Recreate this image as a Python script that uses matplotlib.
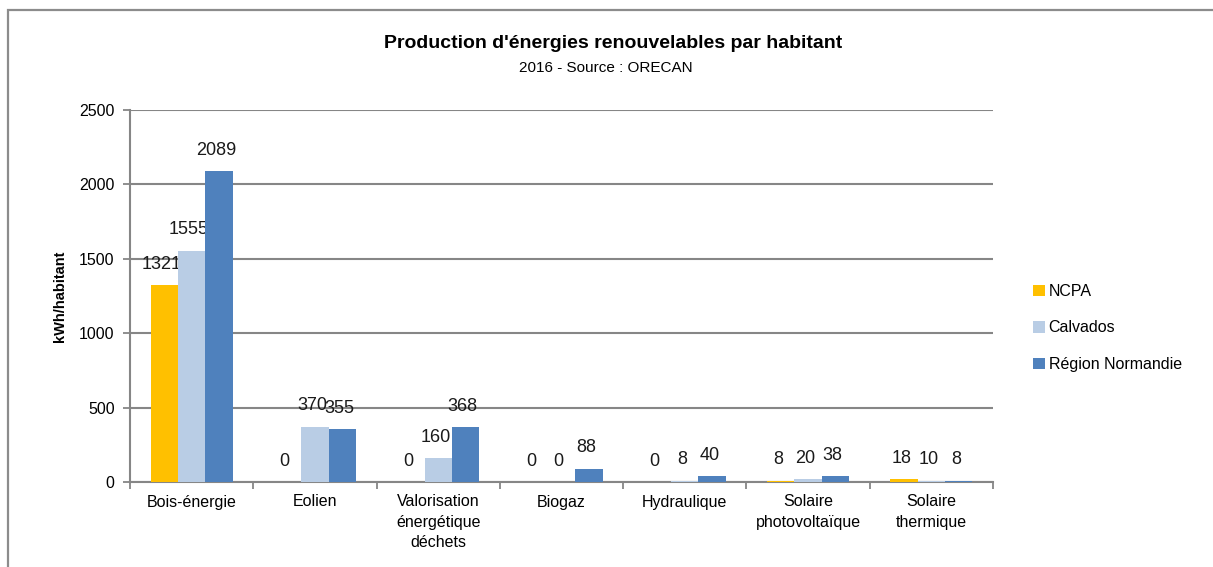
import numpy as np
import matplotlib
matplotlib.use("Agg")
import matplotlib.pyplot as plt
from matplotlib.patches import Rectangle

categories = ["Bois-énergie", "Eolien", "Valorisation\nénergétique\ndéchets", "Biogaz",
              "Hydraulique", "Solaire\nphotovoltaïque", "Solaire\nthermique"]
series = ["NCPA", "Calvados", "Région Normandie"]
ncpa = [1321, 0, 0, 0, 0, 8, 18]
calvados = [1555, 370, 160, 0, 8, 20, 10]
region = [2089, 355, 368, 88, 40, 38, 8]
colors = ["#FFC000", "#B9CDE5", "#4F81BD"]
yticks = [0, 500, 1000, 1500, 2000, 2500]

plt.rcParams['font.family'] = ['Liberation Sans', 'DejaVu Sans']
grey = "#868686"

fig = plt.figure(figsize=(12.13, 5.67), dpi=100)
ax = fig.add_axes([130/1213, 1-482/567, 863/1213, 372/567])

# outer chart frame (partly cropped in the original)
fig.patches.append(Rectangle((8/1213, -0.2), 1.2, 1.2 - 10/567, transform=fig.transFigure,
                             fill=False, edgecolor="#8c8c8c", lw=1.6))

x = np.arange(len(categories))
w = 0.222
for k, (vals, c, name) in enumerate(zip([ncpa, calvados, region], colors, series)):
    pos = x + (k - 1) * w
    ax.bar(pos, vals, w, color=c, label=name, zorder=3)
    for px, v in zip(pos, vals):
        ax.annotate(str(v), (px, v), xytext=(-2, 9), textcoords="offset points",
                    ha="center", va="bottom", fontsize=13, color="#1a1a1a")

ax.set_xlim(-0.5, len(categories) - 0.5)
ax.set_ylim(0, 2500)
ax.set_yticks(yticks)
ax.yaxis.grid(True, color=grey, lw=1.5, zorder=0)
ax.set_axisbelow(True)

ax.set_xticks(np.arange(len(categories) + 1) - 0.5)
ax.set_xticklabels([])
ax.set_xticks(x, minor=True)
ax.set_xticklabels(categories, minor=True, fontsize=11.5, linespacing=1.45)
ax.tick_params(axis="x", which="minor", length=0, pad=9)
ax.tick_params(axis="x", which="major", length=5, width=1.3, color=grey)
ax.tick_params(axis="y", length=5, width=1.3, color=grey, labelsize=11.5, pad=6)

for s in ["top", "right"]:
    ax.spines[s].set_visible(False)
for s in ["left", "bottom"]:
    ax.spines[s].set_color(grey)
    ax.spines[s].set_linewidth(1.5)

ax.set_ylabel("kWh/habitant", fontsize=10.5, fontweight="bold", labelpad=9)

fig.text(613/1213, 1-44/567, "Production d'énergies renouvelables par habitant",
         ha="center", va="center", fontsize=14, fontweight="bold")
fig.text(606/1213, 1-68/567, "2016 - Source : ORECAN", ha="center", va="center", fontsize=11)

leg = ax.legend(loc="center left", bbox_to_anchor=(1.046, 0.414), frameon=False,
                fontsize=11.5, handlelength=0.75, handleheight=0.75, handletextpad=0.25,
                labelspacing=1.35, borderpad=0, borderaxespad=0)

fig.savefig("out.png", dpi=100)
